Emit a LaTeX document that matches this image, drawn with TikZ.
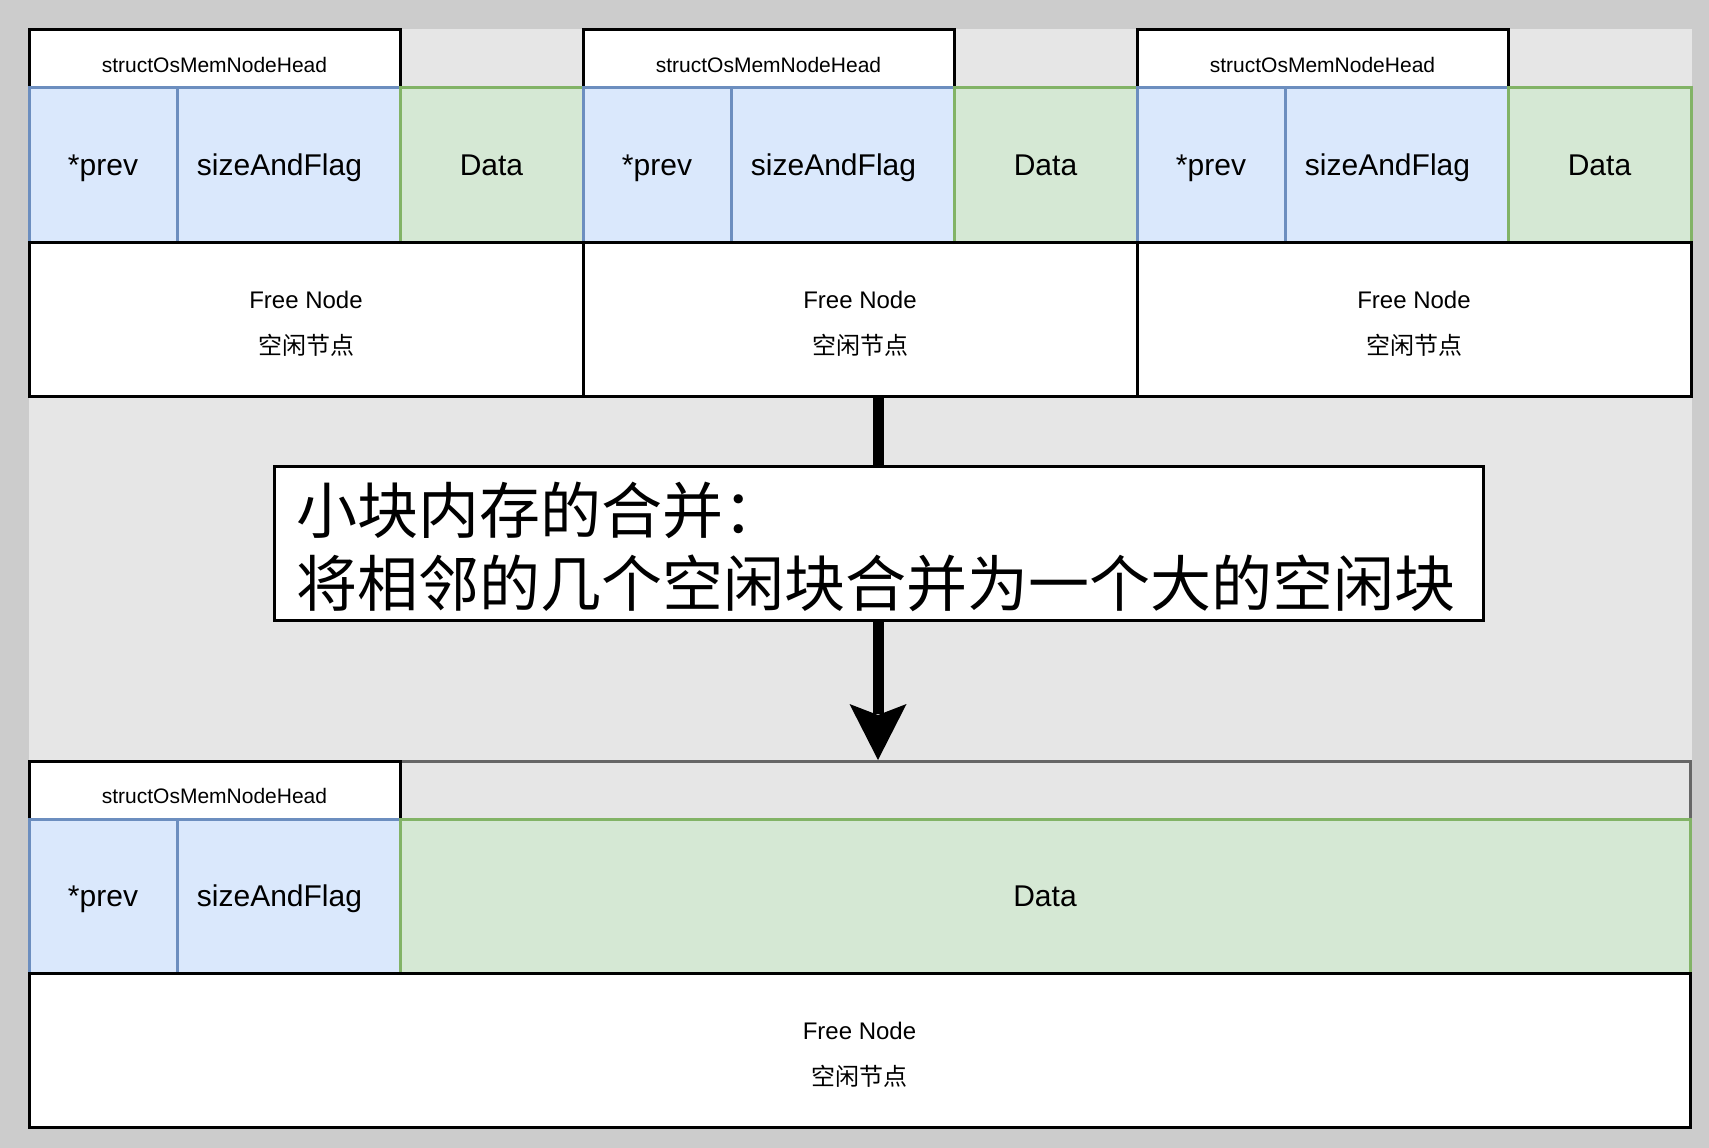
\documentclass[tikz,border=0pt]{standalone}
\usepackage{fontspec}
\setmainfont{Liberation Sans}
\newfontfamily\cjk{Noto Sans CJK SC}
\usetikzlibrary{calc}
\definecolor{bgouter}{HTML}{CCCCCC}
\definecolor{bginner}{HTML}{E6E6E6}
\definecolor{bluefill}{HTML}{DAE8FC}
\definecolor{bluedraw}{HTML}{6C8EBF}
\definecolor{greenfill}{HTML}{D5E8D4}
\definecolor{greendraw}{HTML}{82B366}
\definecolor{graydraw}{HTML}{666666}
\newcommand\topblock[2]{%
  \node[headbox, minimum width=371pt, minimum height=58pt] (head#1) at (#2,30) {};
  \node[headtxt, yshift=-6pt] (headt#1) at (head#1.center) {structOsMemNodeHead};
  \node[bluebox, minimum width=148pt, minimum height=154pt] (prev#1) at (#2,88) {};
  \node[bigtxt] (prevt#1) at (prev#1.center) {*prev};
  \node[bluebox, minimum width=223pt, minimum height=154pt] (size#1) at ({#2+148},88) {};
  \node[bigtxt, xshift=-9pt] (sizet#1) at (size#1.center) {sizeAndFlag};
  \node[greenbox, minimum width=183pt, minimum height=154pt] (data#1) at ({#2+371},88) {};
  \node[bigtxt] (datat#1) at (data#1.center) {Data};
  \node[freebox, minimum width=554pt, minimum height=154pt] (free#1) at (#2,242) {};
  \node[freetxt, yshift=-4.5pt] (freet#1) at (free#1.center) {Free Node\\{\cjk 空闲节点}};
}
\begin{document}
\begin{tikzpicture}[x=1pt,y=-1pt,
  cell/.style={anchor=north west, inner sep=0pt, outer sep=0pt},
  headbox/.style={cell, draw=black, fill=white, line width=3pt},
  bluebox/.style={cell, draw=bluedraw, fill=bluefill, line width=3pt},
  greenbox/.style={cell, draw=greendraw, fill=greenfill, line width=3pt},
  freebox/.style={cell, draw=black, fill=white, line width=3pt},
  graybox/.style={cell, draw=graydraw, fill=bginner, line width=3pt},
  headtxt/.style={inner sep=0pt, font=\fontsize{21}{25}\selectfont},
  bigtxt/.style={inner sep=0pt, text height=21.5pt, text depth=0pt, font=\fontsize{30}{36}\selectfont},
  freetxt/.style={inner sep=0pt, align=center, font=\fontsize{24}{46}\selectfont},
  mergebox/.style={cell, draw=black, fill=white, line width=3pt},
  mergetxt/.style={inner sep=0pt, anchor=west, align=left, font=\fontsize{61}{73}\selectfont\cjk},
  arrowline/.style={line width=11pt, draw=black}
]
\useasboundingbox (0,0) rectangle (1709,1148);
\fill[bgouter] (0,0) rectangle (1709,1148);
\fill[bginner] (29,29) rectangle (1692,1129);

\topblock{1}{29}
\topblock{2}{583}
\topblock{3}{1137}

% bottom merged block
\node[graybox, minimum width=1661pt, minimum height=58pt] (bcont) at (29,761) {};
\node[headbox, minimum width=371pt, minimum height=58pt] (bhead) at (29,761) {};
\node[headtxt, yshift=-6pt] (bheadt) at (bhead.center) {structOsMemNodeHead};
\node[bluebox, minimum width=148pt, minimum height=154pt] (bprev) at (29,819) {};
\node[bigtxt] (bprevt) at (bprev.center) {*prev};
\node[bluebox, minimum width=223pt, minimum height=154pt] (bsize) at (177,819) {};
\node[bigtxt, xshift=-9pt] (bsizet) at (bsize.center) {sizeAndFlag};
\node[greenbox, minimum width=1290pt, minimum height=154pt] (bdata) at (400,819) {};
\node[bigtxt] (bdatat) at (bdata.center) {Data};
\node[freebox, minimum width=1661pt, minimum height=154pt] (bfree) at (29,973) {};
\node[freetxt, yshift=-4.5pt] (bfreet) at (bfree.center) {Free Node\\{\cjk 空闲节点}};

% arrow
\coordinate (arrtop) at (878,396);
\coordinate (arrtip) at (878,760);
\draw[arrowline] (arrtop) -- ($(arrtip)+(0,-46)$);
\fill[black] (arrtip) -- ++(-28.5,-56) -- ++(28.5,11) -- ++(28.5,-11) -- cycle;

% merge text box
\node[mergebox, minimum width=1209pt, minimum height=154pt] (merge) at (274,466) {};
\node[mergetxt] (mtext) at (296,547) {小块内存的合并：\\将相邻的几个空闲块合并为一个大的空闲块};
\end{tikzpicture}
\end{document}
